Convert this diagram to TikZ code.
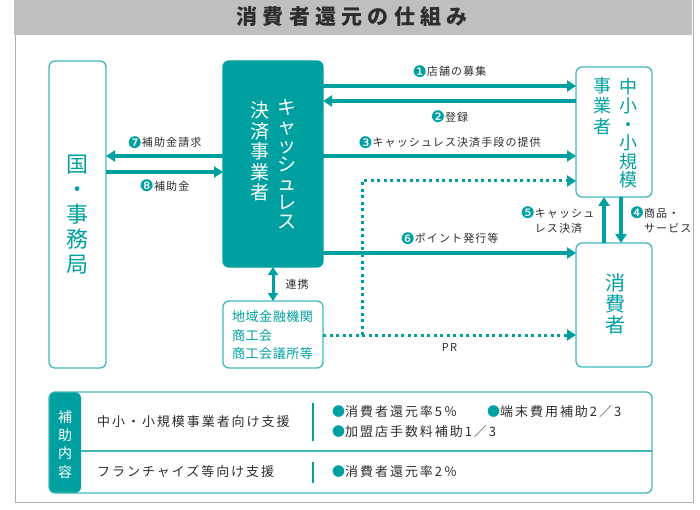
\documentclass[tikz,border=0pt]{standalone}
\usepackage{fontspec}
\setmainfont{Noto Sans CJK JP}
\newfontfamily\dingfont{DejaVu Sans}
\usetikzlibrary{arrows.meta}

\definecolor{tealA}{RGB}{0,160,160}
\definecolor{tealL}{RGB}{64,184,186}
\definecolor{barGray}{RGB}{190,191,193}
\definecolor{lineGray}{RGB}{175,175,175}
\definecolor{inkGray}{RGB}{45,45,45}

\newcommand{\nmark}[1]{\raisebox{-1.2pt}{\dingfont\fontsize{16}{16}\selectfont\color{tealA}#1}}

\tikzset{
  frame/.style={draw=tealL, line width=1.3pt, rounded corners=6pt, outer sep=0pt},
  arr/.style={draw=tealA, line width=3.5pt, -{Triangle[length=9pt,width=11pt]}},
  dblarr/.style={draw=tealA, line width=3pt, {Triangle[length=8pt,width=10pt]}-{Triangle[length=8pt,width=10pt]}},
  dotarr/.style={draw=tealA, line width=3pt, dash pattern=on 3pt off 3.5pt, -{Triangle[length=9pt,width=11pt]}},
  lbl/.style={inner sep=0pt, text=inkGray, font={\fontsize{11}{15}\selectfont\addfontfeature{LetterSpace=10}}},
  vtext/.style={inner sep=0pt, align=center},
  rowtext/.style={inner sep=0pt, anchor=west, text=inkGray, font={\fontsize{13}{16}\selectfont\addfontfeature{LetterSpace=15}}},
}

\begin{document}
\begin{tikzpicture}[x=1pt,y=-1pt]
\useasboundingbox (0,0) rectangle (700,510);

% title bar and outer frame
\fill[barGray] (14,0) rectangle (692,35);
\draw[lineGray, line width=1pt] (15,35) -- (15,502) -- (693,502) -- (693,0);
\node (title) at (352,17) [text=inkGray, font={\bfseries\fontsize{21}{24}\selectfont\addfontfeature{LetterSpace=25}}] {消費者還元の仕組み};

% boxes
\node (kuni) at (77.5,214.5) [frame, minimum width=57pt, minimum height=307pt] {};
\node (cash) at (273,164) [frame, draw=tealA, fill=tealA, minimum width=100pt, minimum height=206pt] {};
\node (sme) at (614,132) [frame, minimum width=76pt, minimum height=130pt] {};
\node (cons) at (614,305) [frame, minimum width=76pt, minimum height=124pt] {};
\node (org) at (273,334.5) [frame, minimum width=100pt, minimum height=67pt] {};

% box texts
\node (kunit) at (77.5,215) [vtext, text=tealA, font={\fontsize{22}{25}\selectfont}] {国\\・\\事\\務\\局};
\node (casha) at (287,164.5) [vtext, text=white, font={\fontsize{19}{19}\selectfont}] {キ\\ャ\\ッ\\シ\\ュ\\レ\\ス};
\node (cashb) at (260,151.5) [vtext, text=white, font={\fontsize{19}{20.5}\selectfont}] {決\\済\\事\\業\\者};
\node (smea) at (628,133.5) [vtext, text=tealA, font={\fontsize{18}{18.6}\selectfont}] {中\\小\\・\\小\\規\\模};
\node (smeb) at (602,106) [vtext, text=tealA, font={\fontsize{18}{20.5}\selectfont}] {事\\業\\者};
\node (const) at (615,304) [vtext, text=tealA, font={\fontsize{20}{21}\selectfont}] {消\\費\\者};
\node (orgt) at (232,335.5) [anchor=west, inner sep=0pt, align=left, text=tealA, font={\fontsize{13}{18.5}\selectfont\addfontfeature{LetterSpace=4}}] {地域金融機関\\商工会\\商工会議所等};

% flows
\draw[arr] ([yshift=-25pt]cash.north east) -- ([yshift=-19pt]sme.north west) node[midway, above=7pt, lbl] {\nmark{❶}店舗の募集};
\draw[arr] ([yshift=-34pt]sme.north west) -- ([yshift=-40pt]cash.north east) node[midway, below=8pt, lbl] {\nmark{❷}登録};
\draw[arr] ([yshift=-95pt]cash.north east) -- ([yshift=-89pt]sme.north west) node[midway, above=6pt, lbl] {\nmark{❸}キャッシュレス決済手段の提供};
\draw[arr] ([yshift=-192pt]cash.north east) -- ([yshift=-10pt]cons.north west) node[midway, above=7pt, lbl] {\nmark{❻}ポイント発行等};
\draw[arr] ([yshift=-95pt]cash.north west) -- ([yshift=-95pt]kuni.north east) node[midway, above=6pt, lbl] {\nmark{❼}補助金請求};
\draw[arr] ([yshift=-111pt]kuni.north east) -- ([yshift=-111pt]cash.north west) node[midway, below=6pt, lbl] {\nmark{❽}補助金};
\draw[arr] ([xshift=28pt]cons.north west) -- ([xshift=28pt]sme.south west) node[midway, left=8pt, lbl, align=left] {\nmark{❺}キャッシュ\\\hphantom{\nmark{❺}}レス決済};
\draw[arr] ([xshift=45pt]sme.south west) -- ([xshift=45pt]cons.north west) node[midway, right=7pt, lbl, align=left] {\nmark{❹}商品・\\\hphantom{\nmark{❹}}サービス};
\draw[dblarr] (cash.south) -- (org.north) node[midway, right=11pt, lbl] {連携};

% PR (dotted)
\draw[dotarr] ([yshift=-34pt]org.north east) -- ([yshift=-92pt]cons.north west) node[midway, below=7pt, lbl] {PR};
\coordinate (split) at (362,335);
\draw[dotarr] (split) |- ([yshift=-114pt]sme.north west);

% support table
\node (tbl) at (350.5,442.5) [frame, minimum width=603pt, minimum height=101pt,
  path picture={\fill[tealA] (path picture bounding box.north west) rectangle ([xshift=32pt]path picture bounding box.south west);}] {};
\draw[tealL, line width=1.3pt] ([xshift=32pt,yshift=-59pt]tbl.north west) -- ([yshift=-59pt]tbl.north east);
\node (tblh) at (65,444.5) [vtext, text=white, font={\fontsize{14}{18.3}\selectfont}] {補\\助\\内\\容};

\node (rowa) at (97,422) [rowtext] {中小・小規模事業者向け支援};
\node (rowb) at (97,472) [rowtext] {フランチャイズ等向け支援};
\draw[tealA, line width=1.3pt] (313,403) -- (313,441);
\draw[tealA, line width=1.3pt] (313,462) -- (313,483);

\node (itema) at (332,412) [rowtext] {{\color{tealA}●}消費者還元率5％};
\node (itemb) at (487,412) [rowtext] {{\color{tealA}●}端末費用補助2／3};
\node (itemc) at (332,432) [rowtext] {{\color{tealA}●}加盟店手数料補助1／3};
\node (itemd) at (332,472) [rowtext] {{\color{tealA}●}消費者還元率2％};
\end{tikzpicture}
\end{document}
